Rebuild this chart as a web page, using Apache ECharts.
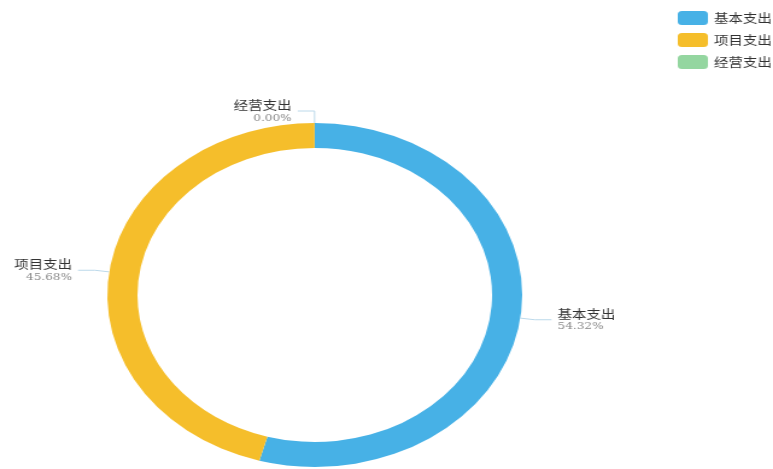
<!DOCTYPE html>
<html>
<head>
<meta charset="utf-8">
<script src="https://cdn.jsdelivr.net/npm/echarts@6/dist/echarts.min.js"></script>
<style>
    html, body { margin: 0; padding: 0; background: #fff; overflow: hidden; }
    /* the reference is stretched sideways, so the chart is drawn narrow and widened */
    #pieChart { width: 641px; height: 469px; transform: scaleX(1.206); transform-origin: 0 0; }
</style>
</head>
<body>
<div id="pieChart"></div>
<script>
const categories = ['基本支出', '项目支出', '经营支出'];
const amounts = [54.32, 45.68, 0];
const colors = ['#47b1e6', '#f5be2b', '#94d6a0'];

const pieChart = echarts.init(document.getElementById('pieChart'));

function buildData() {
    let rows = [];
    for (let i = 0; i < categories.length; i++) {
        rows.push({ name: categories[i], value: amounts[i] });
    }
    return rows;
}

const option = {
    color: colors,
    legend: {
        orient: 'vertical',
        right: -4,
        top: 6,
        itemWidth: 25,
        itemHeight: 14,
        itemGap: 8,
        textStyle: { fontSize: 12, color: '#333', fontFamily: 'Noto Sans CJK SC' },
        data: categories
    },
    series: [
        {
            name: '支出',
            type: 'pie',
            center: [261, 295],
            radius: [147, 172],
            // a hair past 90 so the empty slice's label falls on the left like the original
            startAngle: 90.05,
            clockwise: true,
            avoidLabelOverlap: false,
            label: {
                show: true,
                formatter: ((p) => {
                    return '{n|' + p.name + '}\n{p|' + p.percent.toFixed(2) + '%}';
                }),
                rich: {
                    n: { fontSize: 12, color: '#333', fontFamily: 'Noto Sans CJK SC', lineHeight: 14 },
                    p: { fontSize: 10, color: '#888', fontFamily: 'DejaVu Serif', lineHeight: 11 }
                }
            },
            labelLine: {
                length: 12,
                length2: 14,
                lineStyle: { color: '#bcd9ea', width: 1 }
            },
            emphasis: { scale: false },
            data: buildData()
        }
    ]
};
pieChart.setOption(option);
</script>
</body>
</html>
